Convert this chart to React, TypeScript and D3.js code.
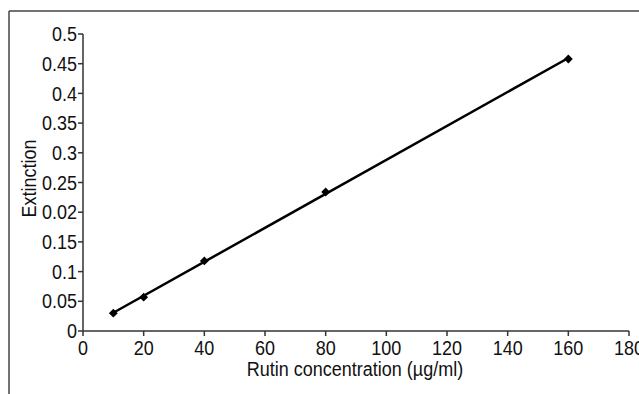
import React from "react";
import * as d3 from "d3";

const concentrations = [10, 20, 40, 80, 160];
const extinctions = [0.03, 0.057, 0.118, 0.234, 0.458];
const xTicks = [0, 20, 40, 60, 80, 100, 120, 140, 160, 180];
const yTicks = [0, 0.05, 0.1, 0.15, 0.2, 0.25, 0.3, 0.35, 0.4, 0.45, 0.5];
const yTickLabels = ["0", "0.05", "0.1", "0.15", "0.02", "0.25", "0.3", "0.35", "0.4", "0.45", "0.5"];
const xTitle = "Rutin concentration (µg/ml)";
const yTitle = "Extinction";

export default function App() {
  const W = 639, H = 394;
  const x = d3.scaleLinear().domain([0, 180]).range([83, 629]);
  const y = d3.scaleLinear().domain([0, 0.5]).range([331, 34]);

  const n = concentrations.length;
  const mx = d3.mean(concentrations) as number;
  const my = d3.mean(extinctions) as number;
  let sxy = 0, sxx = 0;
  for (let i = 0; i < n; i++) {
    sxy += (concentrations[i] - mx) * (extinctions[i] - my);
    sxx += (concentrations[i] - mx) ** 2;
  }
  const slope = sxy / sxx;
  const intercept = my - slope * mx;
  const x0 = d3.min(concentrations) as number;
  const x1 = d3.max(concentrations) as number;
  const line = d3.line<number>().x(d => x(d)).y(d => y(intercept + slope * d));
  const diamond = d3.symbol().type(d3.symbolDiamond2).size(50)();

  const font = "'Liberation Sans', Arial, sans-serif";
  const axisColor = "#333";
  const fs = 18;

  return (
    <svg width={W} height={H} style={{ position: "absolute", left: 0, top: 0, background: "#fff" }}>
      <rect x={0} y={0} width={W} height={H} fill="#fff" />
      {/* frame */}
      <line x1={9} y1={11} x2={W} y2={11} stroke="#444" strokeWidth={1.5} />
      <line x1={9} y1={11} x2={9} y2={H} stroke="#444" strokeWidth={1.5} />

      {/* y axis */}
      <line x1={x(0)} y1={y(0)} x2={x(0)} y2={y(0.5)} stroke={axisColor} strokeWidth={1.5} />
      {yTicks.map((t, i) => (
        <g key={"y" + i}>
          <line x1={x(0) - 5} x2={x(0)} y1={y(t)} y2={y(t)} stroke={axisColor} strokeWidth={1.5} />
          <text transform={`translate(${x(0) - 6},${y(t)}) scale(1,1.1)`} dy="0.36em" textAnchor="end" fontFamily={font} fontSize={fs} fill="#111">
            {yTickLabels[i]}
          </text>
        </g>
      ))}
      {/* x axis */}
      <line x1={x(0)} y1={y(0)} x2={x(180)} y2={y(0)} stroke={axisColor} strokeWidth={1.5} />
      {xTicks.map((t, i) => (
        <g key={"x" + i}>
          <line x1={x(t)} x2={x(t)} y1={y(0)} y2={y(0) + 5} stroke={axisColor} strokeWidth={1.5} />
          <text transform={`translate(${x(t)},${y(0) + 24}) scale(1,1.1)`} textAnchor="middle" fontFamily={font} fontSize={fs} fill="#111">
            {t}
          </text>
        </g>
      ))}
      <text transform="translate(355,376) scale(1,1.1)" textAnchor="middle" fontFamily={font} fontSize={fs} fill="#111">{xTitle}</text>
      <text transform={`translate(36,178.5) rotate(-90) scale(1,1.1)`} textAnchor="middle" fontFamily={font} fontSize={fs} fill="#111">{yTitle}</text>

      <path d={line([x0, x1]) as string} fill="none" stroke="#000" strokeWidth={2.5} />
      {concentrations.map((c, i) => (
        <path key={"p" + i} d={diamond as string} transform={`translate(${x(c)},${y(extinctions[i])})`} fill="#000" />
      ))}
    </svg>
  );
}
